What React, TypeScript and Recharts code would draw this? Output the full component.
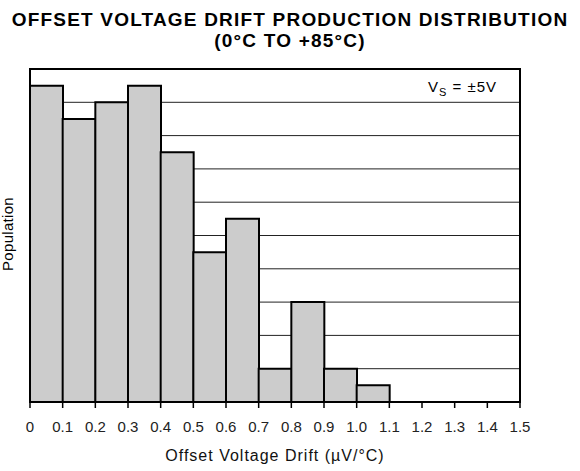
import { BarChart, Bar, XAxis, YAxis, CartesianGrid, ReferenceArea } from 'recharts';

// histogram bins (left edge, µV/°C) and relative population per bin
const binStarts = [0, 0.1, 0.2, 0.3, 0.4, 0.5, 0.6, 0.7, 0.8, 0.9, 1.0];
const population = [9.5, 8.5, 9, 9.5, 7.5, 4.5, 5.5, 1, 3, 1, 0.5];
const binWidth = 0.1;

const xTicks = [0, 0.1, 0.2, 0.3, 0.4, 0.5, 0.6, 0.7, 0.8, 0.9, 1.0, 1.1, 1.2, 1.3, 1.4, 1.5];
const yTicks = [0, 1, 2, 3, 4, 5, 6, 7, 8, 9, 10];
const gridValues = [1, 2, 3, 4, 5, 6, 7, 8, 9];

const data = binStarts.map((start, i) => ({
  mid: start + binWidth / 2,
  count: population[i],
}));

const FONT = '"Liberation Sans", Arial, Helvetica, sans-serif';

const titleStyle = {
  position: 'absolute' as const,
  left: 0,
  width: 580,
  textAlign: 'center' as const,
  fontWeight: 'bold',
  fontSize: 19,
  lineHeight: '19px',
  letterSpacing: 1.2,
  whiteSpace: 'nowrap' as const,
};

function AxisTitle(props: any) {
  const vb = props.viewBox || {};
  const x = vb.x + vb.width / 2;
  const y = vb.y + vb.height - 10;
  return (
    <text
      x={x}
      y={y}
      textAnchor="middle"
      fontSize={16}
      letterSpacing={1}
      fill="#111"
      fontFamily={FONT}
    >
      Offset Voltage Drift (µV/°C)
    </text>
  );
}

export default function App() {
  return (
    <div
      style={{
        position: 'absolute',
        left: 0,
        top: 0,
        width: 580,
        height: 471,
        background: '#fff',
        fontFamily: FONT,
        color: '#000',
      }}
    >
      <div style={{ ...titleStyle, top: 10 }}>OFFSET VOLTAGE DRIFT PRODUCTION DISTRIBUTION</div>
      <div style={{ ...titleStyle, top: 31 }}>(0°C TO +85°C)</div>

      <BarChart
        width={580}
        height={471}
        data={data}
        margin={{ top: 69, right: 60, bottom: 0, left: 30 }}
        barCategoryGap={0}
        barGap={0}
      >
        <CartesianGrid
          vertical={false}
          stroke="#222"
          strokeWidth={1}
          horizontalValues={gridValues}
        />
        <XAxis
          dataKey="mid"
          type="number"
          domain={[0, 1.5]}
          ticks={xTicks}
          interval={0}
          tickFormatter={(v: number) => (v === 0 ? '0' : v.toFixed(1))}
          tick={{ fontSize: 15, fill: '#222', fontFamily: FONT }}
          tickLine={{ stroke: '#000', strokeWidth: 1.5 }}
          tickSize={6}
          tickMargin={13}
          axisLine={{ stroke: '#000', strokeWidth: 2 }}
          height={69}
          label={<AxisTitle />}
        />
        <YAxis type="number" domain={[0, 10]} ticks={yTicks} hide />
        <ReferenceArea
          x1={0}
          x2={1.5}
          y1={0}
          y2={10}
          fill="none"
          fillOpacity={0}
          stroke="#000"
          strokeWidth={2}
        />
        <Bar
          dataKey="count"
          fill="#cccccc"
          stroke="#000"
          strokeWidth={2}
          isAnimationActive={false}
        />
      </BarChart>

      <div
        style={{
          position: 'absolute',
          left: 7,
          top: 234,
          transform: 'translate(-50%, -50%) rotate(-90deg)',
          fontSize: 15,
          letterSpacing: 0.3,
          whiteSpace: 'nowrap',
        }}
      >
        Population
      </div>

      <div
        style={{
          position: 'absolute',
          left: 428,
          top: 79,
          fontSize: 15,
          lineHeight: '15px',
          letterSpacing: 1,
          whiteSpace: 'nowrap',
        }}
      >
        V<span style={{ fontSize: 11, position: 'relative', top: 4 }}>S</span> = ±5V
      </div>
    </div>
  );
}
